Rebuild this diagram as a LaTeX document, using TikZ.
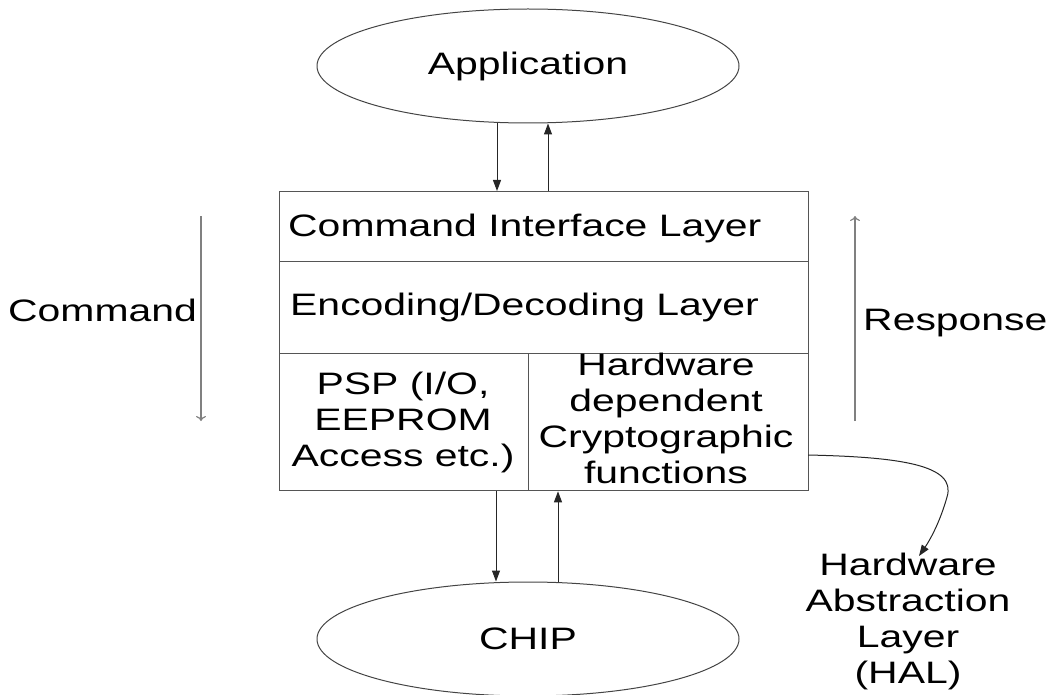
\documentclass[tikz,border=0pt]{standalone}
\usepackage{fontspec}
\setmainfont{Liberation Sans}[FakeStretch=1.32]
\usetikzlibrary{arrows.meta,shapes.geometric}
\definecolor{boxgray}{HTML}{555555}
\definecolor{ovalgray}{HTML}{444444}
\definecolor{sidegray}{HTML}{808080}
\begin{document}
\begin{tikzpicture}[x=1pt,y=-1pt,
  lbl/.style={font=\fontsize{31}{36}\selectfont, inner sep=0pt, text=black},
  cell/.style={draw=boxgray, line width=1.3pt, anchor=north west, inner sep=0pt},
  oval/.style={ellipse, draw=ovalgray, line width=1pt, inner sep=0pt, font=\fontsize{31}{36}\selectfont},
  flow/.style={draw=black!85, line width=1pt, -{Triangle[length=11pt,width=8pt]}},
  side/.style={draw=sidegray, line width=1.2pt, -{To[length=5pt,width=10pt]}},
]
\useasboundingbox (0,0) rectangle (1051,695);
% ellipses
\node[oval, minimum width=422pt, minimum height=114pt] (app) at (528,66) {Application};
\node[oval, minimum width=422pt, minimum height=114pt] (chip) at (528,639) {CHIP};
% box cells
\node[cell, minimum width=529pt, minimum height=70pt] (cil) at (279,191) {};
\node[cell, minimum width=529pt, minimum height=92pt] (edl) at (279,261) {};
\node[cell, minimum width=249pt, minimum height=137pt] (psp) at (279,353) {};
\node[cell, minimum width=280pt, minimum height=137pt] (hdc) at (528,353) {};
% texts
\node[lbl, anchor=base west] (cilt) at (288,236) {Command Interface Layer};
\node[lbl, anchor=base west] (edlt) at (290,315) {Encoding/Decoding Layer};
\node[lbl, align=center] (pspt) at (403,422) {PSP (I/O,\\EEPROM\\Access etc.)};
\node[lbl, align=center] (hdct) at (666,418) {Hardware\\dependent\\Cryptographic\\functions};
\node[lbl, anchor=base west] (cmdt) at (8,321) {Command};
\node[lbl, anchor=base west] (rspt) at (863,330) {Response};
\node[lbl, align=center] (hal) at (908,621) {Hardware\\Abstraction\\Layer\\(HAL)};
% helper coordinates
\coordinate (xa) at (497,0);
\coordinate (xb) at (548,0);
\coordinate (xc) at (496,0);
\coordinate (xd) at (558,0);
\coordinate (cmdtop) at (201,216);
\coordinate (cmdbot) at (201,421);
\coordinate (rsptop) at (855,216);
\coordinate (rspbot) at (855,421);
\coordinate (hs) at (808,455);
\coordinate (he) at (919,556);
% connectors
\draw[flow] (app.south -| xa) -- (cil.north -| xa);
\draw[flow] (cil.north -| xb) -- (app.south -| xb);
\draw[flow] (psp.south -| xc) -- (chip.north -| xc);
\draw[flow] (chip.north -| xd) -- (hdc.south -| xd);
\draw[side] (cmdtop) -- (cmdbot);
\draw[side] (rspbot) -- (rsptop);
\draw[flow] (hs) .. controls (900,457) and (957,465) .. (947,497)
            .. controls (940,522) and (930,540) .. (he);
\end{tikzpicture}
\end{document}
